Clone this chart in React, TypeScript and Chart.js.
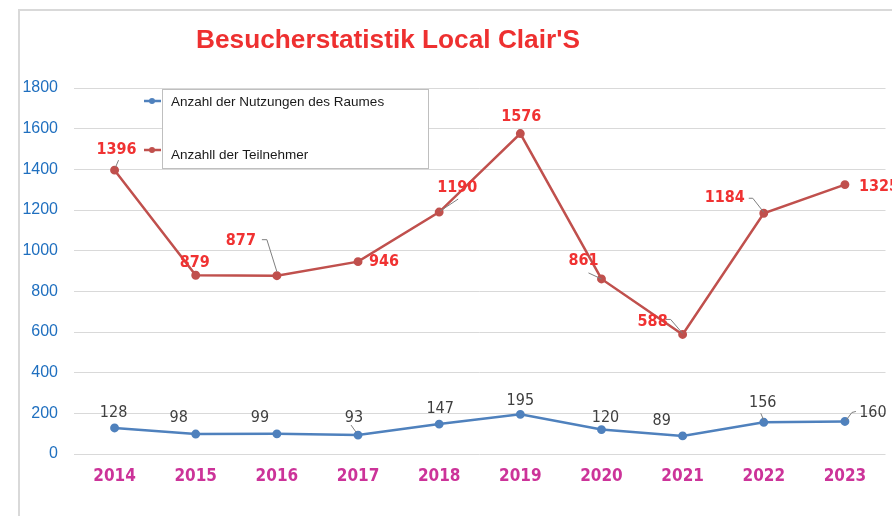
import React, { useEffect, useRef } from "react";
import { Chart, registerables } from "chart.js";

Chart.register(...registerables);

const years = ["2014", "2015", "2016", "2017", "2018", "2019", "2020", "2021", "2022", "2023"];
const nutzungen = [128, 98, 99, 93, 147, 195, 120, 89, 156, 160];
const teilnehmer = [1396, 879, 877, 946, 1190, 1576, 861, 588, 1184, 1325];
const seriesNames = ["Anzahl der Nutzungen des Raumes", "Anzahll der Teilnehmer"];
const titleText = "Besucherstatistik Local Clair'S";
const yMin = 0;
const yMax = 1800;
const yStep = 200;

// label placement (style only): offsets relative to the point, in px
const nutzOffsets: [number, number][] = [
  [-1, -15], [-17, -16], [-17, -16], [-4, -17], [1, -15], [0, -14], [4, -12], [-21, -15], [-1, -19], [28, -9],
];
const teilOffsets: [number, number][] = [
  [2, -20], [-1, -12], [-36, -35], [26, 0], [18, -24], [1, -17], [-18, -18], [-30, -13], [-39, -15], [34, 2],
];
// leader polylines relative to point (style only)
const nutzLeaders: (number[] | null)[] = [
  null, null, null, [-7, -10, -2, -3], null, null, null, null, [-3, -9, 0, -2], [11, -10, 7, -9, 1, -1],
];
const teilLeaders: (number[] | null)[] = [
  [4, -10, 1, -3], null, [-15, -36, -10, -36, 0, -4], null, [19, -13, 1, -1], null, [-13, -6, 0, 0],
  [-17, -15, -12, -15, 0, -1], [-15, -15, -11, -15, 0, -1], null,
];

const BLUE = "#4f81bd";
const RED = "#c0504d";

const decorPlugin = {
  id: "decor",
  beforeDraw(chart: any) {
    const ctx = chart.ctx;
    ctx.save();
    ctx.fillStyle = "#ffffff";
    ctx.fillRect(0, 0, chart.width, chart.height);
    ctx.strokeStyle = "#d9d9d9";
    ctx.lineWidth = 2;
    ctx.beginPath();
    ctx.moveTo(19, 600);
    ctx.lineTo(19, 10);
    ctx.lineTo(900, 10);
    ctx.stroke();
    ctx.restore();
  },
  afterDatasetsDraw(chart: any) {
    const ctx = chart.ctx;
    ctx.save();
    // title
    ctx.fillStyle = "#ee3030";
    ctx.font = "bold 22px 'Liberation Sans'";
    let w = ctx.measureText(titleText).width;
    const size = 22 * (384 / w);
    ctx.font = `bold ${size.toFixed(2)}px 'Liberation Sans'`;
    ctx.textAlign = "center";
    ctx.textBaseline = "alphabetic";
    ctx.fillText(titleText, 388, 48);

    // legend
    ctx.fillStyle = "#ffffff";
    ctx.fillRect(162, 89, 266, 79);
    ctx.strokeStyle = "#bfbfbf";
    ctx.lineWidth = 1;
    ctx.strokeRect(162.5, 89.5, 266, 79);
    const legendY = [101, 150];
    const legendTextY = [102, 155];
    const cols = [BLUE, RED];
    for (let i = 0; i < 2; i++) {
      ctx.strokeStyle = cols[i];
      ctx.lineWidth = 2.5;
      ctx.beginPath();
      ctx.moveTo(144, legendY[i]);
      ctx.lineTo(161, legendY[i]);
      ctx.stroke();
      ctx.fillStyle = cols[i];
      ctx.beginPath();
      ctx.arc(152, legendY[i], 3, 0, Math.PI * 2);
      ctx.fill();
      ctx.fillStyle = "#1a1a1a";
      ctx.font = "13.5px 'Liberation Sans'";
      ctx.textAlign = "left";
      ctx.textBaseline = "middle";
      ctx.fillText(seriesNames[i], 171, legendTextY[i]);
    }

    // data labels
    const drawSet = (dsIndex: number, values: number[], offs: [number, number][], leaders: (number[] | null)[], font: string, color: string) => {
      const meta = chart.getDatasetMeta(dsIndex);
      meta.data.forEach((pt: any, i: number) => {
        const lead = leaders[i];
        if (lead) {
          ctx.strokeStyle = "#7f7f7f";
          ctx.lineWidth = 1;
          ctx.beginPath();
          ctx.moveTo(pt.x + lead[0], pt.y + lead[1]);
          for (let k = 2; k < lead.length; k += 2) ctx.lineTo(pt.x + lead[k], pt.y + lead[k + 1]);
          ctx.stroke();
        }
        ctx.fillStyle = color;
        ctx.font = font;
        ctx.textAlign = "center";
        ctx.textBaseline = "middle";
        ctx.fillText(String(values[i]), pt.x + offs[i][0], pt.y + offs[i][1]);
      });
    };
    drawSet(0, nutzungen, nutzOffsets, nutzLeaders, "16px 'DejaVu Sans Condensed'", "#404040");
    drawSet(1, teilnehmer, teilOffsets, teilLeaders, "bold 16px 'DejaVu Sans Condensed'", "#f03232");
    ctx.restore();
  },
};

export default function App() {
  const ref = useRef<HTMLCanvasElement | null>(null);
  useEffect(() => {
    if (!ref.current) return;
    const chart = new Chart(ref.current, {
      type: "line",
      data: {
        labels: years,
        datasets: [
          {
            label: seriesNames[0],
            data: nutzungen,
            borderColor: BLUE,
            backgroundColor: BLUE,
            borderWidth: 2.5,
            pointRadius: 3.2,
            pointBackgroundColor: BLUE,
            pointBorderColor: BLUE,
            tension: 0,
          },
          {
            label: seriesNames[1],
            data: teilnehmer,
            borderColor: RED,
            backgroundColor: RED,
            borderWidth: 2.5,
            pointRadius: 3.2,
            pointBackgroundColor: RED,
            pointBorderColor: RED,
            tension: 0,
          },
        ],
      },
      options: {
        responsive: false,
        animation: false,
        devicePixelRatio: 1,
        layout: { padding: { top: 88, right: 6, left: 0, bottom: 0 } },
        plugins: {
          legend: { display: false },
          title: { display: false },
          tooltip: { enabled: false },
        },
        scales: {
          x: {
            offset: true,
            grid: { display: false, drawTicks: false },
            border: { display: false },
            ticks: {
              color: "#cc3399",
              padding: 12,
              font: { family: "'DejaVu Sans Condensed'", size: 17, weight: "bold" },
              maxRotation: 0,
            },
            afterFit: (s: any) => {
              s.height = 62;
            },
          },
          y: {
            min: yMin,
            max: yMax,
            grid: { color: "#d9d9d9", lineWidth: 1, drawTicks: false },
            border: { display: false },
            ticks: {
              stepSize: yStep,
              color: "#1f6fbf",
              padding: 16,
              font: { family: "'Liberation Sans'", size: 16 },
              callback: (v: any) => String(v),
            },
            afterFit: (s: any) => {
              s.width = 74;
            },
          },
        },
      },
      plugins: [decorPlugin],
    } as any);
    return () => chart.destroy();
  }, []);
  return (
    <div style={{ position: "fixed", left: 0, top: 0, width: 892, height: 516, background: "#fff" }}>
      <canvas ref={ref} width={892} height={516} style={{ display: "block" }} />
    </div>
  );
}
